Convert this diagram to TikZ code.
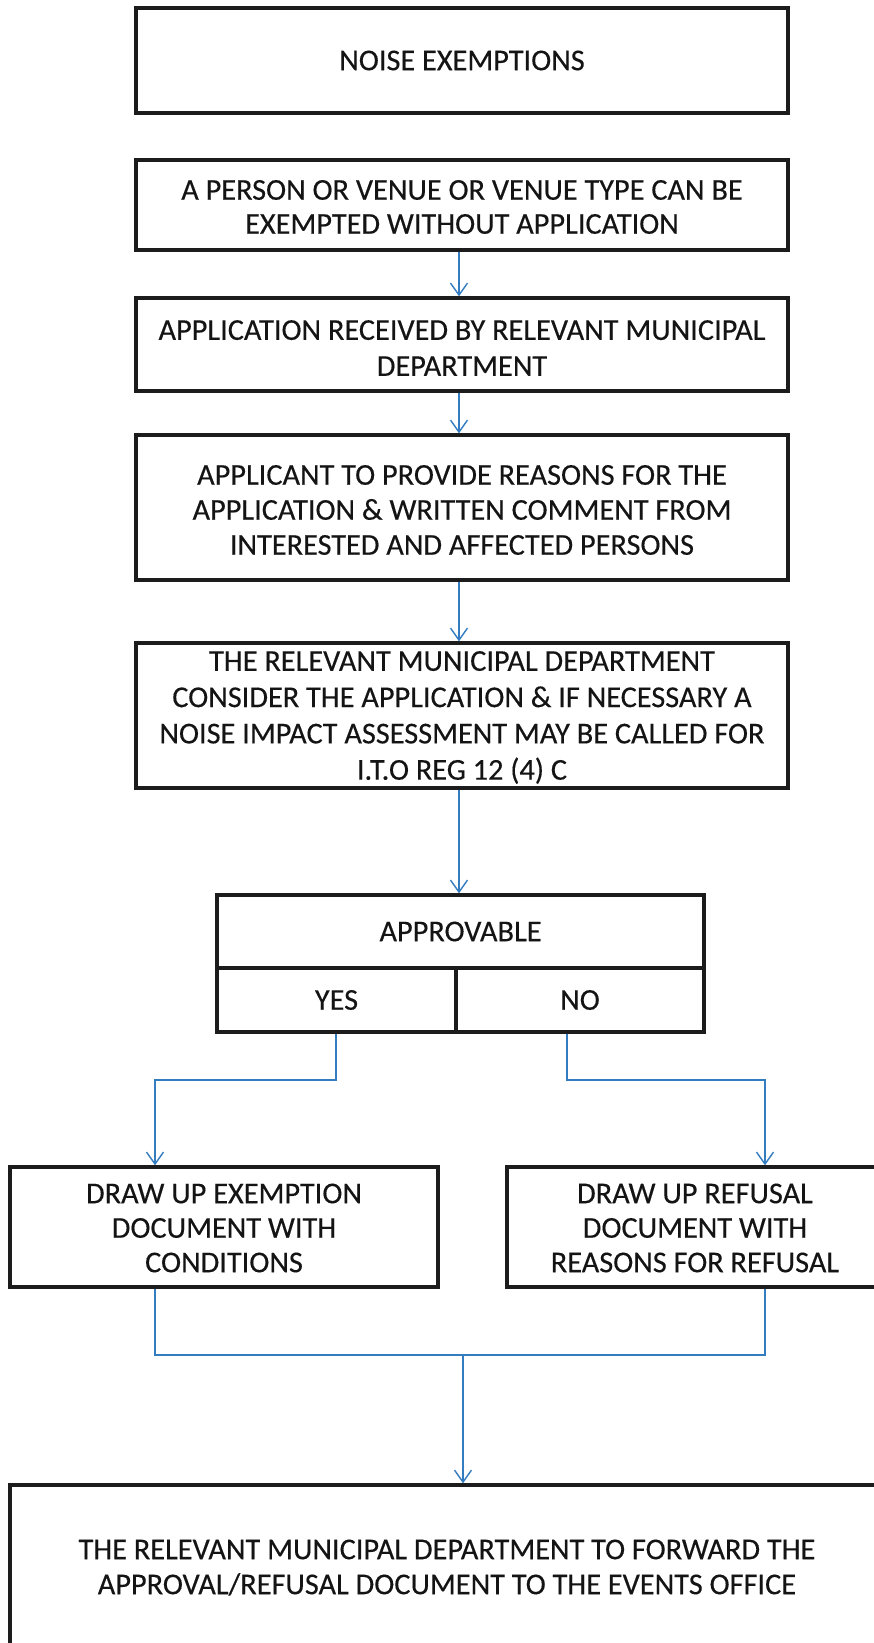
\documentclass[tikz,border=0pt]{standalone}
\usepackage{fontspec}
\setmainfont{Carlito}[FakeBold=0.3]
\usetikzlibrary{arrows.meta}
\definecolor{flowblue}{RGB}{52,124,192}
\definecolor{boxline}{RGB}{28,28,28}
\begin{document}
\begin{tikzpicture}[x=1pt,y=-1pt,
  frame/.style={draw=boxline, line width=3.4pt, inner sep=0pt},
  words/.style={align=center, inner sep=0pt, text=black!92,
    font=\fontsize{30.3}{#1}\selectfont},
  words/.default=35,
  link/.style={draw=flowblue, line width=1.4pt},
  flow/.style={link, -{Straight Barb[length=12pt,width=17pt,line width=1.4pt]}}]
  \useasboundingbox (0,0) rectangle (874,1643);
  \clip (0,0) rectangle (874,1643);
  \fill[white] (0,0) rectangle (874,1643);

  % column of process boxes
  \node[frame, minimum width=652pt, minimum height=105pt] (b1) at (462,60.5) {};
  \node[words] (t1) at (462,60.5) {NOISE EXEMPTIONS};

  \node[frame, minimum width=652pt, minimum height=90pt] (b2) at (462,205) {};
  \node[words=34] (t2) at (462,207) {A PERSON OR VENUE OR VENUE TYPE CAN BE\\EXEMPTED WITHOUT APPLICATION};

  \node[frame, minimum width=652pt, minimum height=93pt] (b3) at (462,344.5) {};
  \node[words=36] (t3) at (462,348) {APPLICATION RECEIVED BY RELEVANT MUNICIPAL\\DEPARTMENT};

  \node[frame, minimum width=652pt, minimum height=145pt] (b4) at (462,507.5) {};
  \node[words] (t4) at (462,510)
    {APPLICANT TO PROVIDE REASONS FOR THE\\APPLICATION \& WRITTEN COMMENT FROM\\INTERESTED AND AFFECTED PERSONS};

  \node[frame, minimum width=652pt, minimum height=145pt] (b5) at (462,715.5) {};
  \node[words=36.3] (t5) at (462,717.5)
    {THE RELEVANT MUNICIPAL DEPARTMENT\\CONSIDER THE APPLICATION \& IF NECESSARY A\\NOISE IMPACT ASSESSMENT MAY BE CALLED FOR\\I.T.O REG 12 (4) C};

  % decision table
  \node[frame, minimum width=487pt, minimum height=73pt] (appr) at (460.5,931.5) {};
  \node[words] (tappr) at (460.5,931.5) {APPROVABLE};
  \node[frame, minimum width=239pt, minimum height=64pt] (yes) at (336.5,1000) {};
  \node[words] (tyes) at (336.5,1000) {YES};
  \node[frame, minimum width=248pt, minimum height=64pt] (no) at (580,1000) {};
  \node[words] (tno) at (580,1000) {NO};

  % outcome boxes
  \node[frame, minimum width=428pt, minimum height=120pt] (ybox) at (224,1227) {};
  \node[words=34.5] (tybox) at (224,1228) {DRAW UP EXEMPTION\\DOCUMENT WITH\\CONDITIONS};
  \node[frame, minimum width=370pt, minimum height=120pt] (nbox) at (692,1227) {};
  \node[words=34.5] (tnbox) at (695,1228) {DRAW UP REFUSAL\\DOCUMENT WITH\\REASONS FOR REFUSAL};

  % final box
  \node[frame, minimum width=866pt, minimum height=170pt] (fin) at (443,1570) {};
  \node[words] (tfin) at (447,1567.5)
    {THE RELEVANT MUNICIPAL DEPARTMENT TO FORWARD THE\\APPROVAL/REFUSAL DOCUMENT TO THE EVENTS OFFICE};

  % routing points
  \coordinate (ax) at (459,0);
  \coordinate (yl) at (336,1080);
  \coordinate (yx) at (155,0);
  \coordinate (nl) at (567,1080);
  \coordinate (nx) at (765,0);
  \coordinate (mL) at (155,1355);
  \coordinate (mR) at (765,1355);
  \coordinate (mC) at (463,1355);

  % connectors
  \draw[flow] (b2.south -| ax) -- (b3.north -| ax);
  \draw[flow] (b3.south -| ax) -- (b4.north -| ax);
  \draw[flow] (b4.south -| ax) -- (b5.north -| ax);
  \draw[flow] (b5.south -| ax) -- (appr.north -| ax);
  \draw[flow] (yes.south -| yl) -- (yl) -| (ybox.north -| yx);
  \draw[flow] (no.south -| nl) -- (nl) -| (nbox.north -| nx);
  \draw[link] (ybox.south -| mL) -- (mL) -- (mR) -- (nbox.south -| mR);
  \draw[flow] (mC) -- (fin.north -| mC);
\end{tikzpicture}
\end{document}
